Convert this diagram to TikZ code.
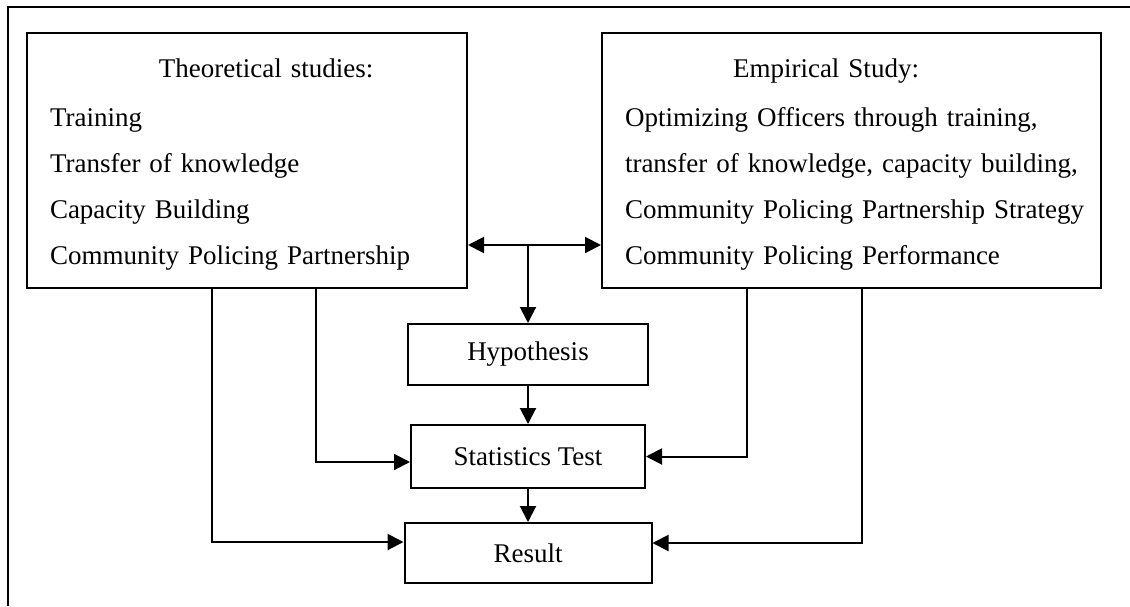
\documentclass[tikz,border=0pt]{standalone}
\usepackage{fontspec}
\setmainfont{Liberation Serif}
\usetikzlibrary{arrows.meta, positioning, calc}
\tikzset{
  studybox/.style={rectangle, draw, line width=1pt, align=left,
    inner xsep=11.5pt, minimum height=127.5pt,
    font=\fontsize{13.5}{23}\selectfont},
  stepbox/.style={rectangle, draw, line width=1pt, inner sep=0pt,
    minimum height=30.5pt, font=\fontsize{13.5}{16}\selectfont},
  arrow/.style={-{Triangle[length=8pt,width=8pt]}, line width=1pt},
  dblarrow/.style={{Triangle[length=8pt,width=8pt]}-{Triangle[length=8pt,width=8pt]}, line width=1pt},
  line/.style={line width=1pt}
}

\begin{document}
\begin{tikzpicture}[x=0.5pt, y=-0.5pt]
  \useasboundingbox (0,0) rectangle (1130,606);

  % Outer frame
  \draw[line] (8,606) -- (8,7) -- (1130,7);

  % Theory and empirical blocks
  \node[studybox, text width=197pt] (theory) at (247,160.5)
    {\rule{0pt}{13.7pt}\hspace*{54.5pt}Theoretical studies:\\[1.5pt]
     Training\\
     Transfer of knowledge\\
     Capacity Building\\
     Community Policing Partnership};
  \node[studybox, text width=226.5pt] (empirical) at (851.5,160.5)
    {\rule{0pt}{13.7pt}\hspace*{54pt}Empirical Study:\\[1.5pt]
     \makebox[226.5pt][s]{Optimizing Officers through training,}\\
     \makebox[226.5pt][s]{transfer of knowledge, capacity building,}\\
     \mbox{Community Policing Partnership Strategy}\\
     Community Policing Performance};

  % Analysis steps
  \node[stepbox, minimum width=120pt] (hypo) at (528,354.5) {Hypothesis};
  \node[stepbox, minimum width=117pt, minimum height=31.5pt] (stats) at (528,456.5) {Statistics Test};
  \node[stepbox, minimum width=123.5pt, minimum height=30pt] (result) at (528,553) {Result};

  % Branch points
  \coordinate (mid) at (528,245);
  \coordinate (lout) at (212,0);
  \coordinate (lin) at (316,0);
  \coordinate (rin) at (747,0);
  \coordinate (rout) at (862,0);

  % Connectors
  \draw[dblarrow] (theory.east |- mid) -- (empirical.west |- mid);
  \draw[arrow] (mid) -- (hypo);
  \draw[arrow] (hypo) -- (stats);
  \draw[arrow] (stats) -- (result);
  \draw[arrow] (theory.south -| lin) |- ([yshift=-2.75pt]stats.west);
  \draw[arrow] (theory.south -| lout) |- ([yshift=5.5pt]result.west);
  \draw[arrow] (empirical.south -| rin) |- (stats.east);
  \draw[arrow] (empirical.south -| rout) |- ([yshift=5pt]result.east);

\end{tikzpicture}
\end{document}
